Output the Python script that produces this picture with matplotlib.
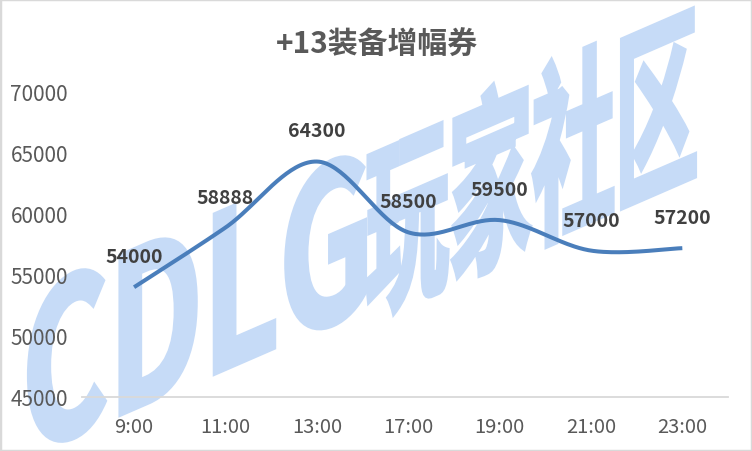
import numpy as np
import matplotlib.pyplot as plt
from matplotlib.textpath import TextPath
from matplotlib.patches import PathPatch, Rectangle
from matplotlib.font_manager import FontProperties
from matplotlib.transforms import Affine2D

plt.rcParams["font.family"] = ["Noto Sans CJK SC", "DejaVu Sans"]

TITLE = "+13装备增幅券"
HOURS = ["9:00", "11:00", "13:00", "17:00", "19:00", "21:00", "23:00"]
PRICES = [54000, 58888, 64300, 58500, 59500, 57000, 57200]
WATERMARK = ["CDLG", "玩家社区"]

LINE_COLOR = "#4a7ebb"
MARK_COLOR = "#c6dbf7"


def smooth(xs, ys, steps=40):
    # excel-ish smoothed line: catmull-rom as cubic bezier segments
    xs = np.asarray(xs, float)
    ys = np.asarray(ys, float)
    n = len(xs)
    out_x, out_y = [], []
    for i in range(n - 1):
        p0 = np.array([xs[max(i - 1, 0)], ys[max(i - 1, 0)]])
        p1 = np.array([xs[i], ys[i]])
        p2 = np.array([xs[i + 1], ys[i + 1]])
        p3 = np.array([xs[min(i + 2, n - 1)], ys[min(i + 2, n - 1)]])
        c1 = p1 + (p2 - p0) / 6
        c2 = p2 - (p3 - p1) / 6
        t = np.linspace(0, 1, steps)[:, None]
        pts = ((1 - t) ** 3) * p1 + 3 * ((1 - t) ** 2) * t * c1 + 3 * (1 - t) * t**2 * c2 + t**3 * p2
        out_x.extend(pts[:, 0])
        out_y.extend(pts[:, 1])
    return out_x, out_y


fig = plt.figure(figsize=(7.52, 4.52), dpi=100)
ax = fig.add_axes([82 / 752, 1 - 398 / 452, (728 - 82) / 752, (398 - 93) / 452])
ax.patch.set_alpha(0)

# watermark: two chunks, each squeezed into its own width, then sheared (inches)
fp = FontProperties(family="Noto Sans CJK SC", weight="bold")
shear = 23.5
for s, left, width, height in [(WATERMARK[0], 0.29, 3.36, 2.15), (WATERMARK[1], 3.67, 3.28, 1.95)]:
    tp = TextPath((0, 0), s, size=1, prop=fp)
    ext = tp.get_extents()
    k = width / ext.width
    tr = (Affine2D().translate(-ext.x0, 0).scale(k, height).translate(left, 0)
          .skew_deg(0, shear).translate(0, -0.16) + fig.dpi_scale_trans)
    fig.add_artist(PathPatch(tp, transform=tr, facecolor=MARK_COLOR, edgecolor=MARK_COLOR,
                             lw=3, zorder=-1))

x = np.arange(len(HOURS))
sx, sy = smooth(x, PRICES)
ax.plot(sx, sy, color=LINE_COLOR, lw=2.9, solid_capstyle="butt", zorder=3)

for i, v in enumerate(PRICES):
    ax.annotate(str(v), (x[i], v), xytext=(0, 22), textcoords="offset points",
                ha="center", va="center", fontsize=14, fontweight="bold", color="#404040", zorder=4)

ax.set_xlim(-0.57, 6.5)
ax.set_ylim(45000, 70000)
ax.set_yticks(range(45000, 70001, 5000))
ax.set_xticks(x)
ax.set_xticklabels(HOURS)
ax.tick_params(length=0, colors="#595959")
ax.tick_params(axis="y", pad=10, labelsize=15)
ax.tick_params(axis="x", pad=14, labelsize=14.5)
for s in ["top", "right", "left"]:
    ax.spines[s].set_visible(False)
ax.spines["bottom"].set_color("#d9d9d9")
ax.spines["bottom"].set_linewidth(1.3)

fig.text(377 / 752, 1 - 45 / 452, TITLE, ha="center", va="center", fontsize=21.5,
         fontweight="bold", color="#595959")

fig.add_artist(Rectangle((0, 0), 1, 1, transform=fig.transFigure, fill=False,
                         edgecolor="#d9d9d9", lw=2.5, zorder=10))

fig.savefig("out.png", dpi=100)
